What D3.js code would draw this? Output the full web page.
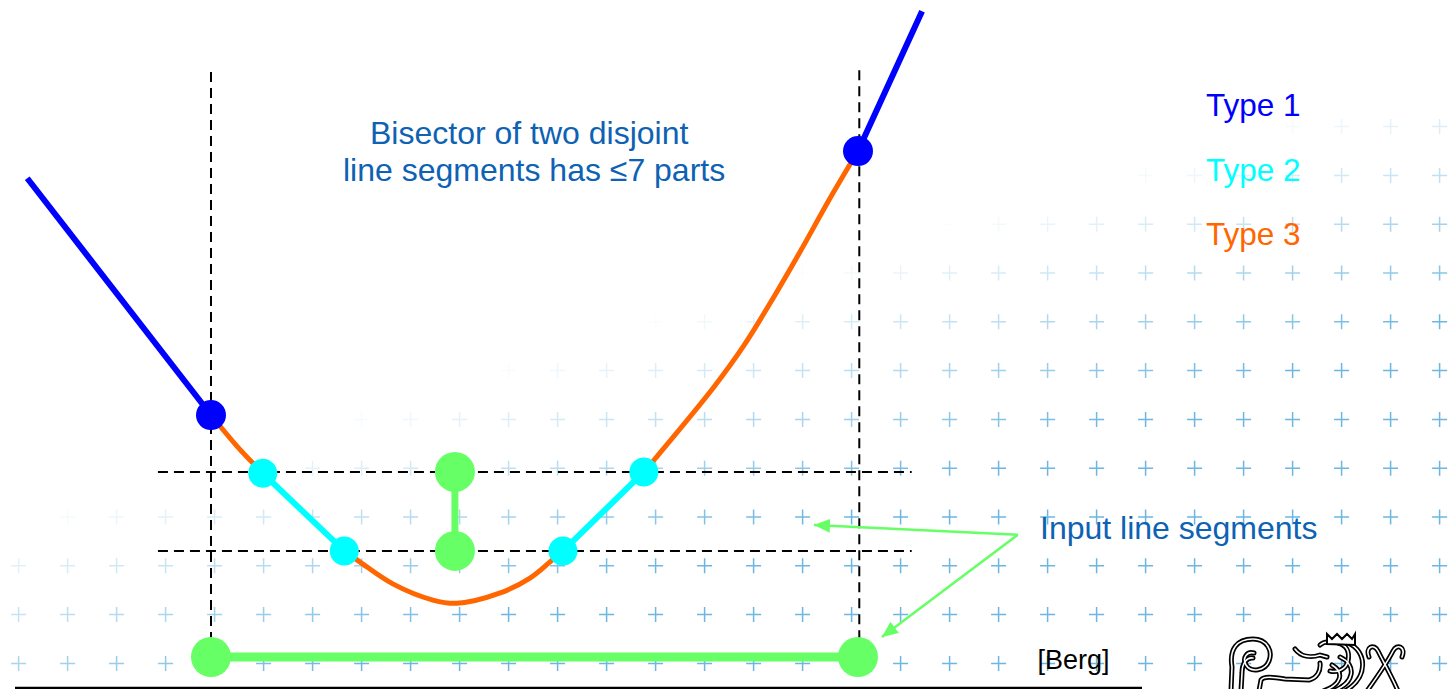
<!DOCTYPE html>
<html><head><meta charset="utf-8">
<script src="https://cdn.jsdelivr.net/npm/d3@7"></script>
<style>html,body{margin:0;padding:0;background:#fff;overflow:hidden}</style>
</head><body>
<svg id="c" width="1450" height="689"></svg>
<script>
// ---------- data (diagram units: long input segment runs from x=0 to x=100, y up) ----------
const inputShort = [[37.7, 28.6], [37.7, 16.4]];
const inputLong = [[0, 0], [100, 0]];
const type1Rays = [
  [[-28.4, 74.0], [0, 37.4]],
  [[100, 78.2], [109.9, 99.8]]
];
const type2Segments = [
  [[8.0, 28.4], [20.6, 16.4]],
  [[54.4, 16.4], [66.9, 28.6]]
];
const type3Curves = [
  [[0, 37.4], [4.0, 32.6], [8.0, 28.4]],
  [[20.6, 16.4], [23.0, 14.7], [28.1, 11.3], [34.3, 8.8], [38.0, 8.3], [44.7, 9.9], [49.3, 12.2], [52.4, 14.7], [54.4, 16.4]],
  [[66.9, 28.6], [68.6, 30.6], [77.7, 41.7], [82.4, 48.2], [86.9, 55.5], [91.2, 62.9], [95.5, 70.6], [100, 78.2]]
];
const type1Vertices = [[0, 37.4], [100, 78.2]];
const type2Vertices = [[8.0, 28.4], [20.6, 16.4], [54.4, 16.4], [66.9, 28.6]];
const segmentEndpoints = [[37.7, 28.6], [37.7, 16.4], [0, 0], [100, 0]];
const dashedVertical = [[0, 0, 90.4], [100.2, 0, 90.7]];      // x, y0, y1
const dashedHorizontal = [[28.6, -8.2, 108.3], [16.4, -8.2, 108.3]]; // y, x0, x1
const arrowTail = [124.7, 18.9];
const arrowTips = [[93.2, 20.4], [103.7, 3.1]];
const legendLabels = ["Type 1", "Type 2", "Type 3"];
const legendColors = ["#0000ff", "#00ffff", "#ff6600"];
const titleLines = ["Bisector of two disjoint", "line segments has ≤7 parts"];
const annotationLabel = "Input line segments";
const sourceLabel = "[Berg]";

// ---------- setup ----------
const svg = d3.select("#c");
const x = d3.scaleLinear().domain([0, 100]).range([211, 858]);
const y = d3.scaleLinear().domain([0, 100]).range([657, 10]);
const FONT = "'Liberation Sans', Arial, Helvetica, sans-serif";
const TEXT_BLUE = "#0d62b3";
const GREEN = "#66ff66";

// ---------- background plus pattern ----------
const gx = d3.scaleLinear().domain([0, 29]).range([18.6, 1439.6]);
const gy = d3.scaleLinear().domain([0, 11]).range([663.4, 126.6]);
const cells = [];
d3.range(12).forEach(j => d3.range(30).forEach(k => cells.push({cx: gx(k), cy: gy(j)})));
const fade = d => Math.max(0, Math.min(1, (d.cy - 520 + 0.317 * d.cx) / 260));
svg.append("g").selectAll("path").data(cells.filter(d => fade(d) > 0.02)).join("path")
  .attr("d", d => `M${d.cx - 7.5},${d.cy}H${d.cx + 7.5}M${d.cx},${d.cy - 7.5}V${d.cy + 7.5}`)
  .attr("stroke", "#6cb6e0").attr("stroke-width", 1.5).attr("fill", "none")
  .attr("opacity", d => fade(d));

// ---------- dashed construction lines ----------
const dashG = svg.append("g").attr("stroke", "#000").attr("stroke-width", 2).attr("stroke-dasharray", "10,6");
dashG.selectAll("line.v").data(dashedVertical).join("line").attr("class", "v")
  .attr("x1", d => x(d[0])).attr("x2", d => x(d[0])).attr("y1", d => y(d[2])).attr("y2", d => y(d[1]));
dashG.selectAll("line.h").data(dashedHorizontal).join("line").attr("class", "h")
  .attr("y1", d => y(d[0])).attr("y2", d => y(d[0])).attr("x1", d => x(d[1])).attr("x2", d => x(d[2]));

// ---------- bisector parts ----------
const curve = d3.line().x(d => x(d[0])).y(d => y(d[1])).curve(d3.curveCatmullRom.alpha(0.5));
const straight = d3.line().x(d => x(d[0])).y(d => y(d[1]));
svg.append("g").selectAll("path").data(type3Curves).join("path")
  .attr("d", curve).attr("fill", "none").attr("stroke", legendColors[2]).attr("stroke-width", 5);
svg.append("g").selectAll("path").data(type2Segments).join("path")
  .attr("d", straight).attr("fill", "none").attr("stroke", legendColors[1]).attr("stroke-width", 6);
svg.append("g").selectAll("path").data(type1Rays).join("path")
  .attr("d", straight).attr("fill", "none").attr("stroke", legendColors[0]).attr("stroke-width", 6);

// ---------- input segments ----------
svg.append("path").attr("d", straight(inputShort)).attr("stroke", GREEN).attr("stroke-width", 7).attr("fill", "none");
svg.append("path").attr("d", straight(inputLong)).attr("stroke", GREEN).attr("stroke-width", 9).attr("fill", "none");

// ---------- vertices ----------
svg.append("g").selectAll("circle").data(type1Vertices).join("circle")
  .attr("cx", d => x(d[0])).attr("cy", d => y(d[1])).attr("r", 15).attr("fill", legendColors[0]);
svg.append("g").selectAll("circle").data(type2Vertices).join("circle")
  .attr("cx", d => x(d[0])).attr("cy", d => y(d[1])).attr("r", 14.5).attr("fill", legendColors[1]);
svg.append("g").selectAll("circle").data(segmentEndpoints).join("circle")
  .attr("cx", d => x(d[0])).attr("cy", d => y(d[1])).attr("r", 20).attr("fill", GREEN);

// ---------- arrows ----------
const defs = svg.append("defs");
defs.append("marker").attr("id", "ah").attr("markerUnits", "userSpaceOnUse")
  .attr("markerWidth", 17).attr("markerHeight", 14).attr("refX", 16).attr("refY", 7).attr("orient", "auto")
  .append("path").attr("d", "M0,0L16,7L0,14Z").attr("fill", GREEN);
svg.append("g").selectAll("line").data(arrowTips).join("line")
  .attr("x1", x(arrowTail[0])).attr("y1", y(arrowTail[1]))
  .attr("x2", d => x(d[0])).attr("y2", d => y(d[1]))
  .attr("stroke", GREEN).attr("stroke-width", 2.5).attr("marker-end", "url(#ah)");

// ---------- texts ----------
svg.append("g").selectAll("text").data(titleLines).join("text")
  .attr("x", (d, i) => [370, 343][i]).attr("y", (d, i) => [144, 181][i])
  .attr("font-family", FONT).attr("font-size", 32).attr("fill", TEXT_BLUE).text(d => d);
svg.append("g").selectAll("text").data(legendLabels).join("text")
  .attr("x", 1206).attr("y", (d, i) => 116 + i * 64.5)
  .attr("font-family", FONT).attr("font-size", 31.5).attr("fill", (d, i) => legendColors[i]).text(d => d);
svg.append("text").attr("x", 1040).attr("y", 539).attr("font-family", FONT).attr("font-size", 32)
  .attr("fill", TEXT_BLUE).text(annotationLabel);
svg.append("text").attr("x", 1037.5).attr("y", 669).attr("font-family", FONT).attr("font-size", 27)
  .attr("fill", "#000").text(sourceLabel);

// ---------- footer rule ----------
svg.append("line").attr("x1", 15).attr("x2", 1142).attr("y1", 688).attr("y2", 688)
  .attr("stroke", "#000").attr("stroke-width", 2.5);

// ---------- logo (approximate line drawing) ----------
const logoPaths = [
  "M4,58 L5,34 C2,16 10,6 26,6 C40,6 46,18 42,28 C38,38 24,40 19,32 C15,25 20,18 27,20",
  "M14,58 L15,40 C15,30 20,24 26,25",
  "M32,58 L34,47 C37,43 44,44 58,46 L82,47 C90,45 94,38 93,30",
  "M68,16 C74,24 84,25 93,22 L100,24",
  "M93,12 C97,8 105,8 111,10 C119,12 123,18 121,28 C119,36 111,40 103,38",
  "M121,10 C140,18 142,44 118,58",
  "M113,24 C130,32 128,50 106,58",
  "M105,32 C118,40 114,52 96,58",
  "M142,24 C138,14 147,10 151,18 C157,30 165,44 171,58",
  "M175,24 C179,14 170,10 166,18 C160,30 150,44 140,58"
];
const logo = svg.append("g").attr("transform", "translate(1227,633)").attr("fill", "none").attr("stroke-linecap", "round");
logo.selectAll("path.o").data(logoPaths).join("path").attr("class", "o").attr("d", d => d).attr("stroke", "#000").attr("stroke-width", 5);
logo.selectAll("path.i").data(logoPaths).join("path").attr("class", "i").attr("d", d => d).attr("stroke", "#fff").attr("stroke-width", 1.6);
logo.append("path").attr("d", "M100,11 L100,1 L105,6 L110,1 L115,6 L120,1 L125,6 L128,1 L128,12 Z")
  .attr("fill", "#fff").attr("stroke", "#000").attr("stroke-width", 2);
</script>
</body></html>
